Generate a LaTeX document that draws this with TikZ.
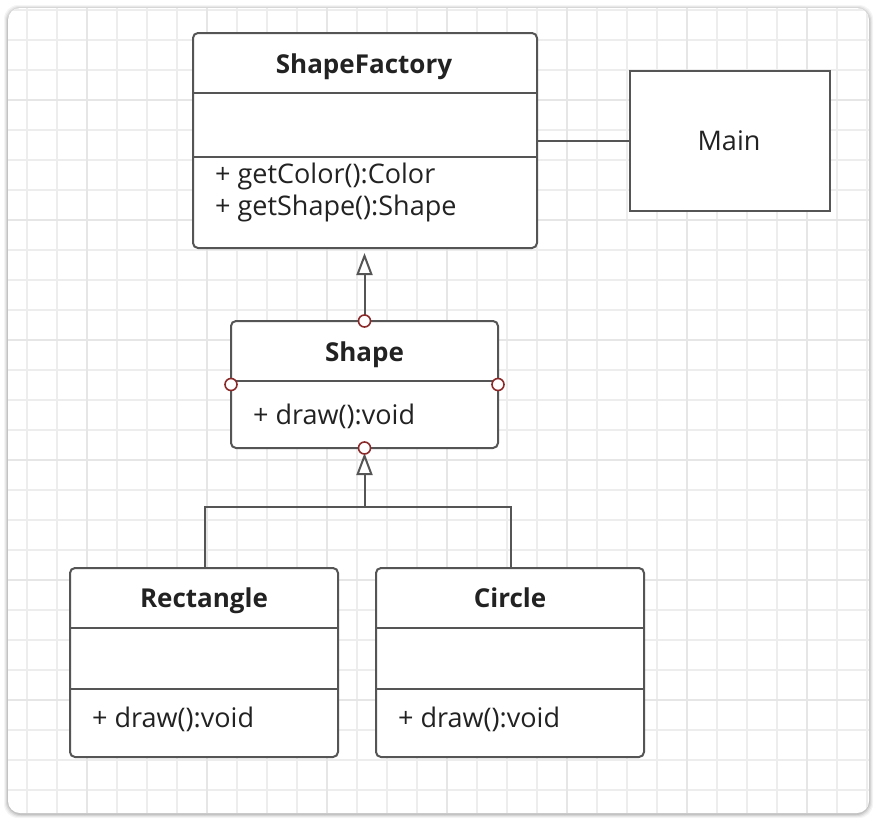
\documentclass[tikz,border=0pt]{standalone}
\usepackage{fontspec}
\setmainfont{Open Sans}
\usetikzlibrary{arrows.meta,calc}
\definecolor{edge}{HTML}{555555}
\definecolor{ink}{HTML}{222222}
\definecolor{gridc}{HTML}{EDEDED}
\definecolor{gridd}{HTML}{E6E6E6}
\definecolor{portc}{HTML}{8B2A2A}
\tikzset{
  umlbox/.style={draw=edge, line width=2pt, fill=white, rounded corners=5pt, inner sep=0pt, outer sep=0pt, anchor=north west},
  plainbox/.style={draw=edge, line width=2pt, fill=white, inner sep=0pt, outer sep=0pt, anchor=north west},
  divider/.style={draw=edge, line width=2pt},
  conn/.style={draw=edge, line width=2pt},
  inherit/.style={conn, -{Triangle[open, length=22pt, width=16pt, line width=2pt]}},
  title/.style={font=\bfseries\fontsize{26}{30}\selectfont, text=ink, anchor=base, inner sep=0pt},
  member/.style={font=\fontsize{27}{31}\selectfont, text=ink, anchor=base west, inner sep=0pt},
  port/.style={circle, draw=portc, fill=white, line width=1.6pt, minimum size=12pt, inner sep=0pt},
}
\begin{document}
\begin{tikzpicture}[x=1pt,y=-1pt]
\useasboundingbox (0,0) rectangle (878,822);
\fill[white] (0,0) rectangle (878,822);
% panel shadow
\foreach \o/\a in {4/0.04,3/0.05,2/0.07,1/0.09}{
  \fill[black, opacity=\a, rounded corners=14pt] (8-\o,8-\o+1) rectangle (869+\o,813+\o+1);
}
\fill[white, rounded corners=12pt] (8,8) rectangle (869,813);
\begin{scope}
\clip[rounded corners=12pt] (8,8) rectangle (869,813);
\foreach \k in {0,...,28}{
  \draw[gridc, line width=1.5pt] ({27+30*\k},8) -- ({27+30*\k},813);
}
\foreach \k in {0,...,26}{
  \draw[gridc, line width=1.5pt] (8,{10+30*\k}) -- (869,{10+30*\k});
}
\foreach \k in {0,...,6}{
  \draw[gridd, line width=1.8pt] ({87+120*\k},8) -- ({87+120*\k},813);
  \draw[gridd, line width=1.8pt] (8,{100+120*\k}) -- (869,{100+120*\k});
}
\end{scope}

% boxes
\node[umlbox, minimum width=344pt, minimum height=215pt] (sf) at (193,33) {};
\draw[divider] (193,93) -- (537,93);
\draw[divider] (193,157) -- (537,157);
\node[title] (sft) at (364,73) {ShapeFactory};
\node[member] (sfm1) at (215,183) {+ getColor():Color};
\node[member] (sfm2) at (215,215) {+ getShape():Shape};

\node[plainbox, minimum width=200pt, minimum height=140pt] (main) at (630,71) {};
\node[title, font=\fontsize{27}{31}\selectfont] (maint) at (729,150) {Main};

\node[umlbox, minimum width=267pt, minimum height=127pt] (shape) at (231,321) {};
\draw[divider] (231,381) -- (498,381);
\node[title] (shapet) at (364.5,361) {Shape};
\node[member] (shapem) at (253,424) {+ draw():void};

\node[umlbox, minimum width=268pt, minimum height=189pt] (rect) at (70,568) {};
\draw[divider] (70,628) -- (338,628);
\draw[divider] (70,689) -- (338,689);
\node[title] (rectt) at (204,607) {Rectangle};
\node[member] (rectm) at (92,727) {+ draw():void};

\node[umlbox, minimum width=268pt, minimum height=189pt] (circ) at (376,568) {};
\draw[divider] (376,628) -- (644,628);
\draw[divider] (376,689) -- (644,689);
\node[title] (circt) at (510,607) {Circle};
\node[member] (circm) at (398,727) {+ draw():void};

% connectors
\draw[conn] (main.west) -- (main.west -| sf.east);
\draw[inherit, shorten >=5pt] (shape.north) -- (shape.north |- sf.south);
\coordinate (jn) at (shape.south |- 0,507);
\draw[conn] (rect.north -| 205,0) |- (jn) -| (circ.north -| 511,0);
\draw[inherit, shorten >=5pt] (jn) -- (shape.south);

% ports
\node[port] (p1) at (shape.north) {};
\node[port] (p2) at (shape.west) {};
\node[port] (p3) at (shape.east) {};
\node[port] (p4) at (shape.south) {};
\end{tikzpicture}
\end{document}
